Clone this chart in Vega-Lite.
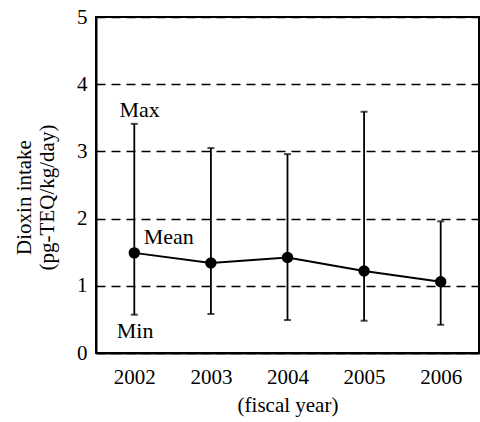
{
  "$schema": "https://vega.github.io/schema/vega-lite/v6.json",
  "autosize": {"type": "none"},
  "width": 383,
  "height": 336,
  "padding": {"left": 96, "top": 17, "right": 1, "bottom": 69},
  "background": "white",
  "config": {
    "font": "Liberation Serif",
    "view": {"stroke": "black", "strokeWidth": 2},
    "axis": {"labelFont": "Liberation Serif", "titleFont": "Liberation Serif", "labelColor": "black", "titleColor": "black", "titleFontWeight": "normal", "domainColor": "black", "domainWidth": 2}
  },
  "data": {
    "values": [
      {"year": 2002, "mean": 1.49, "min": 0.57, "max": 3.41},
      {"year": 2003, "mean": 1.34, "min": 0.58, "max": 3.05},
      {"year": 2004, "mean": 1.42, "min": 0.49, "max": 2.96},
      {"year": 2005, "mean": 1.22, "min": 0.48, "max": 3.59},
      {"year": 2006, "mean": 1.06, "min": 0.42, "max": 1.96}
    ]
  },
  "layer": [
    {
      "mark": {"type": "errorbar", "ticks": {"size": 7, "thickness": 2, "color": "black"}, "rule": {"strokeWidth": 1.8, "color": "black"}},
      "encoding": {
        "x": {"field": "year", "type": "quantitative", "scale": {"domain": [2001.5, 2006.5], "nice": false, "zero": false},
          "axis": {"values": [2002, 2003, 2004, 2005, 2006], "format": "d", "grid": false, "ticks": false, "labelFontSize": 21, "labelPadding": 13, "title": "(fiscal year)", "titleFontSize": 21, "titlePadding": 7}},
        "y": {"field": "min", "type": "quantitative", "scale": {"domain": [0, 5], "nice": false},
          "axis": {"values": [0, 1, 2, 3, 4, 5], "format": "d", "ticks": false, "labelFontSize": 21, "labelPadding": 9,
            "grid": true, "gridColor": "black", "gridDash": [9, 6], "gridWidth": 1.6, "gridOpacity": 1,
            "title": ["Dioxin intake", "(pg-TEQ/kg/day)"], "titleFontSize": 21, "titlePadding": 19, "titleY": 180}},
        "y2": {"field": "max"}
      }
    },
    {
      "mark": {"type": "line", "color": "black", "strokeWidth": 2, "point": {"filled": true, "size": 130, "color": "black"}},
      "encoding": {
        "x": {"field": "year", "type": "quantitative"},
        "y": {"field": "mean", "type": "quantitative"}
      }
    },
    {
      "data": {"values": [
        {"label": "Max", "x": 2002.07, "y": 3.62},
        {"label": "Mean", "x": 2002.45, "y": 1.73},
        {"label": "Min", "x": 2002.01, "y": 0.33}
      ]},
      "mark": {"type": "text", "fontSize": 22, "fill": "black", "color": "black", "font": "Liberation Serif", "baseline": "middle"},
      "encoding": {
        "x": {"field": "x", "type": "quantitative"},
        "y": {"field": "y", "type": "quantitative"},
        "text": {"field": "label"}
      }
    }
  ]
}
